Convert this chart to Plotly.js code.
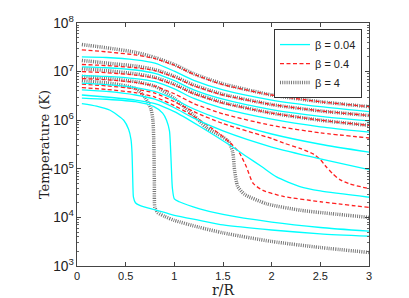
<!DOCTYPE html>
<html>
<head>
<meta charset="utf-8">
<script src="https://cdn.plot.ly/plotly-3.0.1.min.js"></script>
<style>html,body{margin:0;padding:0;background:#fff;} #plot{width:409px;height:298px;}</style>
</head>
<body>
<div id="plot"></div>
<script>
// Shared radial grid for the smooth (hot) profiles
const rGrid = [0.05, 0.3, 0.6, 0.8, 1.0, 1.2, 1.5, 2.0, 2.5, 3.0];

// beta = 4 (gray dotted)
const G1 = [3.6e7, 3.1e7, 2.5e7, 1.95e7, 1.4e7, 9.0e6, 5.6e6, 3.3e6, 2.4e6, 1.9e6];
const G2 = [1.7e7, 1.5e7, 1.3e7, 1.1e7, 8.0e6, 5.3e6, 3.4e6, 2.1e6, 1.55e6, 1.25e6];
const G3 = [1.15e7, 1.05e7, 9.0e6, 7.6e6, 5.5e6, 3.6e6, 2.3e6, 1.4e6, 1.0e6, 7.8e5];
const G4r = [0.05, 0.3, 0.6, 0.8, 1.0, 1.2, 1.33, 1.49, 1.56, 1.6, 1.62, 1.65, 1.72, 1.95, 2.3, 2.6, 3.0];
const G4 = [8.0e6, 7.3e6, 6.2e6, 5.0e6, 2.8e6, 1.25e6, 7.0e5, 4.6e5, 3.6e5, 2.2e5, 9e4, 4.4e4, 3.0e4, 1.9e4, 1.4e4, 1.2e4, 1.0e4];
const G5r = [0.05, 0.3, 0.5, 0.61, 0.7, 0.76, 0.78, 0.79, 0.795, 0.8, 0.83, 0.9, 1.0, 1.25, 1.5, 2.0, 2.5, 3.0];
const G5 = [6.5e6, 5.9e6, 5.1e6, 4.4e6, 2.9e6, 1.7e6, 1.0e6, 3e5, 5e4, 1.6e4, 1.25e4, 1.05e4, 8.7e3, 6.3e3, 4.8e3, 3.2e3, 2.4e3, 1.9e3];

// beta = 0.4 (red dashed)
const R1 = [2.8e7, 2.55e7, 2.2e7, 1.85e7, 1.35e7, 8.8e6, 5.4e6, 3.3e6, 2.4e6, 1.9e6];
const R2 = [1.4e7, 1.33e7, 1.2e7, 1.05e7, 7.7e6, 5.1e6, 3.3e6, 2.1e6, 1.55e6, 1.25e6];
const R3 = [1.0e7, 9.5e6, 8.5e6, 7.3e6, 5.3e6, 3.5e6, 2.25e6, 1.4e6, 1.0e6, 7.8e5];
const R4 = [7.2e6, 6.8e6, 6.0e6, 5.0e6, 3.5e6, 2.2e6, 1.35e6, 7.8e5, 5.5e5, 4.3e5];
const R5r = [0.05, 0.3, 0.6, 0.8, 1.0, 1.2, 1.5, 2.0, 2.12, 2.3, 2.43, 2.5, 2.56, 2.63, 2.7, 2.8, 3.0];
const R5 = [5.5e6, 5.1e6, 4.4e6, 3.6e6, 2.4e6, 1.5e6, 8.5e5, 4.2e5, 3.4e5, 2.6e5, 2.0e5, 1.55e5, 1.1e5, 7.8e4, 6.0e4, 4.9e4, 3.9e4];
const R6r = [0.05, 0.3, 0.6, 0.8, 1.0, 1.2, 1.4, 1.57, 1.67, 1.74, 1.81, 1.91, 2.12, 2.5, 3.0];
const R6 = [4.7e6, 4.3e6, 3.7e6, 3.0e6, 2.0e6, 1.2e6, 6.5e5, 3.5e5, 2.1e5, 1.1e5, 5.0e4, 3.6e4, 2.7e4, 2.1e4, 1.6e4];

// beta = 0.04 (cyan solid)
const C1 = [2.0e7, 1.95e7, 1.75e7, 1.5e7, 1.02e7, 6.6e6, 4.2e6, 2.6e6, 1.9e6, 1.5e6];
const C2 = [1.25e7, 1.2e7, 1.08e7, 9.2e6, 6.5e6, 4.2e6, 2.7e6, 1.65e6, 1.2e6, 9.7e5];
const C3 = [8.3e6, 8.0e6, 7.2e6, 6.2e6, 4.4e6, 2.8e6, 1.75e6, 1.05e6, 7.3e5, 5.7e5];
const C4 = [5.8e6, 5.4e6, 4.7e6, 3.9e6, 2.7e6, 1.7e6, 1.0e6, 5.2e5, 3.2e5, 2.2e5];
const C5 = [4.2e6, 3.9e6, 3.3e6, 2.7e6, 1.8e6, 1.1e6, 6.0e5, 2.8e5, 1.6e5, 9.6e4];
const C6r = [0.05, 0.3, 0.6, 0.8, 1.0, 1.26, 1.6, 1.75, 1.9, 2.05, 2.29, 2.5, 3.0];
const C6 = [3.3e6, 3.0e6, 2.6e6, 2.2e6, 1.5e6, 7.5e5, 2.8e5, 1.75e5, 1.1e5, 6.8e4, 4.3e4, 3.5e4, 2.6e4];
const C7r = [0.05, 0.3, 0.6, 0.79, 0.88, 0.92, 0.95, 0.96, 0.97, 0.98, 1.0, 1.05, 1.26, 1.5, 2.0, 2.5, 3.0];
const C7 = [2.85e6, 2.7e6, 2.4e6, 1.9e6, 1.4e6, 1.0e6, 6e5, 3e5, 1e5, 4e4, 2.4e4, 2.1e4, 1.5e4, 1.15e4, 8e3, 6.2e3, 5.2e3];
const C8r = [0.05, 0.2, 0.34, 0.48, 0.53, 0.555, 0.565, 0.57, 0.575, 0.58, 0.6, 0.65, 0.82, 1.0, 1.26, 1.5, 2.0, 2.5, 3.0];
const C8 = [2.2e6, 1.95e6, 1.6e6, 1.0e6, 6.5e5, 4e5, 2.2e5, 1e5, 4e4, 2.6e4, 2.0e4, 1.75e4, 1.4e4, 1.1e4, 8.7e3, 7e3, 5.5e3, 4.6e3, 4.1e3];

const legendNames = ['β = 0.04', 'β = 0.4', 'β = 4'];

const styles = {
  c: {color: '#00ffff', width: 1.3, dash: 'solid'},
  r: {color: '#ff2020', width: 1.3, dash: '4px,2.5px'},
  g: {color: '#777777', width: 3.5, dash: '1px,1.2px'}
};

const gray = [[rGrid, G1], [rGrid, G2], [rGrid, G3], [G4r, G4], [G5r, G5]];
const red = [[rGrid, R1], [rGrid, R2], [rGrid, R3], [rGrid, R4], [R5r, R5], [R6r, R6]];
const cyan = [[rGrid, C1], [rGrid, C2], [rGrid, C3], [rGrid, C4], [rGrid, C5], [C6r, C6], [C7r, C7], [C8r, C8]];

const traces = [];
function add(list, st, name, rank) {
  list.forEach((p, i) => {
    traces.push({
      x: p[0], y: p[1], type: 'scatter', mode: 'lines',
      line: {color: st.color, width: st.width, dash: st.dash, shape: 'spline', smoothing: 0.6},
      name: name, legendgroup: name, showlegend: i === 0, legendrank: rank,
      hoverinfo: 'skip'
    });
  });
}
add(gray, styles.g, legendNames[2], 3);
add(red, styles.r, legendNames[1], 2);
add(cyan, styles.c, legendNames[0], 1);

const axisCommon = {
  showgrid: false, zeroline: false, showline: true, linecolor: '#444', linewidth: 1,
  mirror: 'allticks', ticks: 'inside', ticklen: 4, tickcolor: '#444',
  tickfont: {family: 'Liberation Sans, Arial, sans-serif', size: 11, color: '#222'}
};

const layout = {
  width: 409, height: 298,
  margin: {l: 77, r: 40, t: 23, b: 32},
  paper_bgcolor: '#fff', plot_bgcolor: '#fff',
  xaxis: Object.assign({}, axisCommon, {
    range: [0, 3], tickmode: 'array', tickvals: [0, 0.5, 1, 1.5, 2, 2.5, 3],
    ticktext: ['0', '0.5', '1', '1.5', '2', '2.5', '3'],
    automargin: false,
    title: {text: 'r/R', font: {family: 'DejaVu Serif, Liberation Serif, serif', size: 14, color: '#222'}, standoff: 0}
  }),
  yaxis: Object.assign({}, axisCommon, {
    type: 'log', range: [3, 8], dtick: 1, exponentformat: 'power',
    automargin: false,
    minor: {ticks: 'inside', ticklen: 2, dtick: 'D1', tickcolor: '#666'},
    title: {text: 'Temperature (K)', font: {family: 'DejaVu Serif, Liberation Serif, serif', size: 13, color: '#222'}, standoff: 0}
  }),
  legend: {
    x: 0.976, y: 0.975, xanchor: 'right', yanchor: 'top',
    bgcolor: '#fff', bordercolor: '#333', borderwidth: 1,
    font: {family: 'Liberation Sans, Arial, sans-serif', size: 11, color: '#222'},
    tracegroupgap: 0, itemwidth: 30
  },
  showlegend: true
};

Plotly.newPlot('plot', traces, layout, {displayModeBar: false, staticPlot: true});
</script>
</body>
</html>
